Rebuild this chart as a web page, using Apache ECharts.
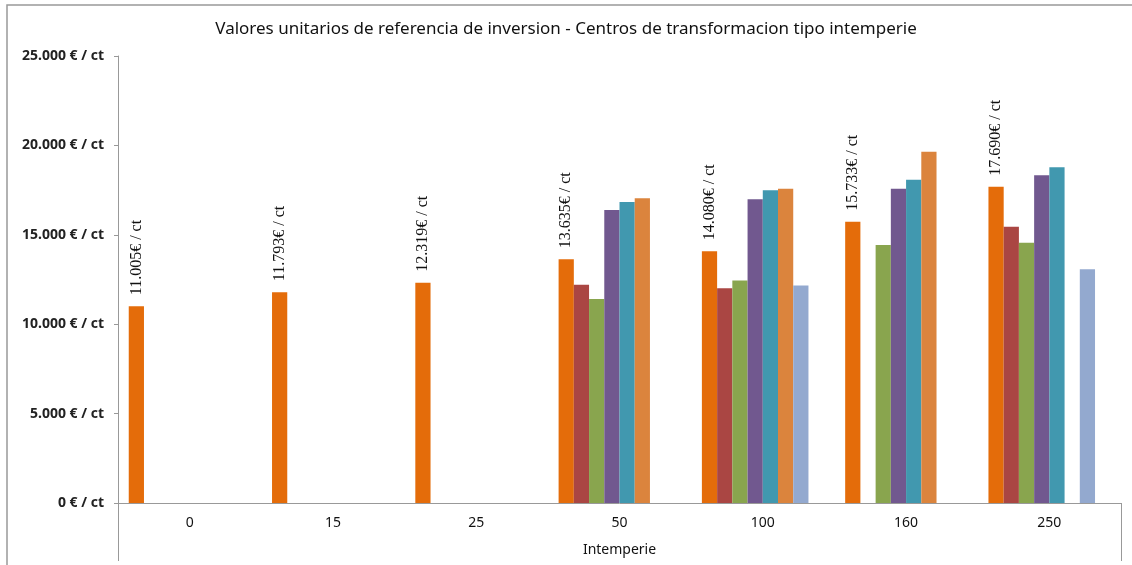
<!DOCTYPE html>
<html>
<head>
<meta charset="utf-8">
<script src="https://cdn.jsdelivr.net/npm/echarts@6/dist/echarts.min.js"></script>
<style>
  html, body { margin: 0; padding: 0; background: #fff; overflow: hidden; }
  #main { width: 1132px; height: 565px; }
</style>
</head>
<body>
<div id="main"></div>
<script>
// categorias (potencia) y series
var categorias = ['0', '15', '25', '50', '100', '160', '250'];
var serie1 = [11005, 11793, 12319, 13635, 14080, 15733, 17690];
var serie2 = [null, null, null, 12200, 12010, null, 15450];
var serie3 = [null, null, null, 11410, 12450, 14430, 14560];
var serie4 = [null, null, null, 16390, 16990, 17580, 18330];
var serie5 = [null, null, null, 16830, 17490, 18080, 18780];
var serie6 = [null, null, null, 17040, 17580, 19650, null];
var serie7 = [null, null, null, null, 12170, null, 13070];
var serie8 = [null, null, null, null, null, null, null]; // serie vacia, ocupa hueco
var colores = ['#E46C0A', '#AA4643', '#89A54E', '#71588F', '#4198AF', '#DB843D', '#93A9CF', '#A9C4EB'];

// formato con punto de miles
function miles(v) {
    return String(v).replace(/\B(?=(\d{3})+(?!\d))/g, '.');
}

var myChart = echarts.init(document.getElementById('main'));

var datos = [serie1, serie2, serie3, serie4, serie5, serie6, serie7, serie8];
var series = datos.map(function (d, i) {
    var s = {
        type: 'bar',
        name: 'S' + (i + 1),
        data: d,
        xAxisIndex: 0,
        itemStyle: { color: colores[i] },
        barGap: '0%',
        barCategoryGap: '15%'
    };
    if (i === 0) {
        s.label = {
            show: true,
            position: 'top',
            rotate: 90,
            align: 'left',
            verticalAlign: 'middle',
            distance: 11,
            fontFamily: 'Liberation Serif',
            fontSize: 16,
            color: '#111',
            formatter: function (p) { return miles(p.value) + '€ / ct'; }
        };
    }
    return s;
});

var option = {
    animation: false,
    title: {
        text: 'Valores unitarios de referencia de inversion - Centros de transformacion tipo intemperie',
        left: 'center',
        top: 16,
        textStyle: { fontFamily: 'Noto Sans', fontSize: 17, fontWeight: 'normal', color: '#111' }
    },
    grid: { left: 118, right: 11, top: 56, bottom: 62 },
    xAxis: [{
        type: 'category',
        data: categorias,
        axisLine: { lineStyle: { color: '#999' } },
        axisTick: { show: false },
        axisLabel: { margin: 13, fontFamily: 'Noto Sans', fontSize: 14, color: '#111' }
    }, {
        // segundo nivel de categoria
        type: 'category',
        data: ['Intemperie'],
        position: 'bottom',
        axisLine: { show: false },
        axisTick: { show: true, length: 58, lineStyle: { color: '#999' } },
        axisLabel: { margin: 40, fontFamily: 'Noto Sans', fontSize: 14, color: '#111' }
    }],
    yAxis: {
        type: 'value',
        min: 0,
        max: 25000,
        interval: 5000,
        splitLine: { show: false },
        axisLine: { show: true, lineStyle: { color: '#999' } },
        axisTick: { show: true, length: 4, lineStyle: { color: '#999' } },
        axisLabel: {
            margin: 14,
            fontFamily: 'Noto Sans',
            fontSize: 14,
            fontWeight: 'bold',
            color: '#222',
            formatter: function (v) { return miles(v) + ' € / ct'; }
        }
    },
    // marco exterior (solo arriba e izquierda visibles)
    graphic: [{
        type: 'polyline',
        shape: { points: [[7, 600], [7, 5], [1140, 5]] },
        style: { fill: null, stroke: '#999', lineWidth: 1.5 },
        silent: true
    }],
    series: series
};

myChart.setOption(option);
</script>
</body>
</html>
